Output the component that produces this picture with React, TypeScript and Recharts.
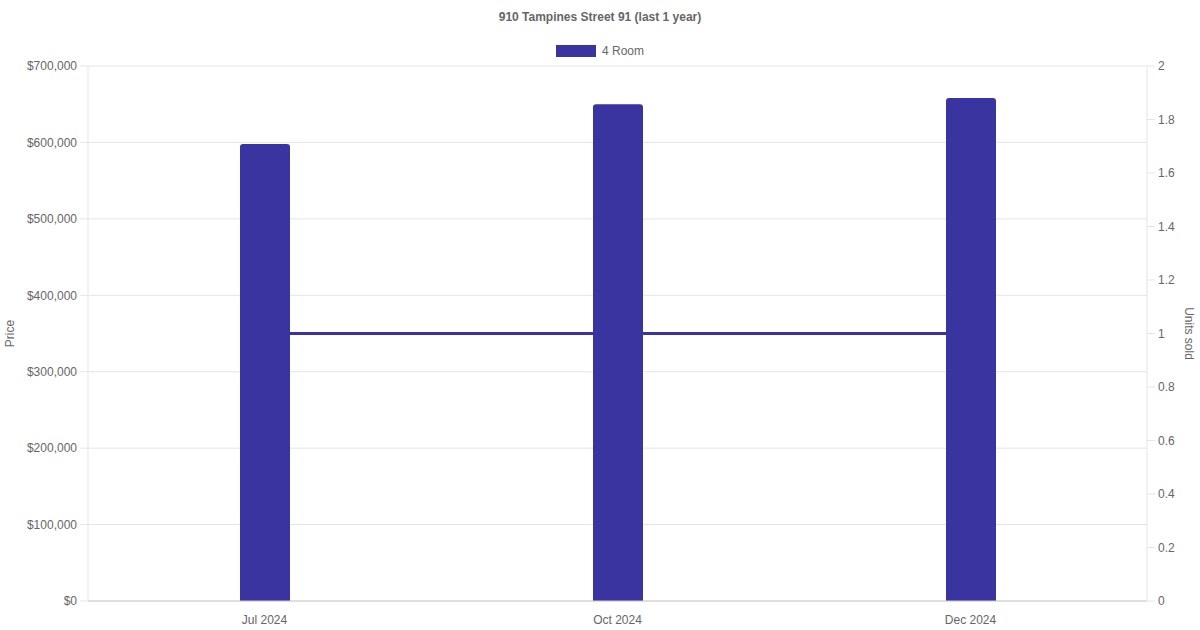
import React from 'react';
import { ComposedChart, Bar, Line, XAxis, YAxis, CartesianGrid } from 'recharts';

// values
const months = ['Jul 2024', 'Oct 2024', 'Dec 2024'];
const prices = [598000, 650000, 658000];
const unitsSold = [1, 1, 1];
const priceTicks = [0, 100000, 200000, 300000, 400000, 500000, 600000, 700000];
const unitTicks = [0, 0.2, 0.4, 0.6, 0.8, 1, 1.2, 1.4, 1.6, 1.8, 2];

const COLOR = '#3a34a0';
const GRID = '#e5e5e5';
const FONT = '"Liberation Sans", Arial, Helvetica, sans-serif';
const tickStyle = { fill: '#666', fontSize: 12, fontFamily: FONT };

const data = months.map((m, i) => ({ month: m, price: prices[i], units: unitsSold[i] }));

const fmtPrice = (v: number) => '$' + v.toLocaleString('en-US');
const fmtUnits = (v: number) => String(Number(v.toFixed(1)));

export default function App() {
  return (
    <div style={{ position: 'absolute', left: 0, top: 0, width: 1200, height: 630, background: '#fff', fontFamily: FONT }}>
      <div style={{ position: 'absolute', top: 10, left: 0, width: 1200, textAlign: 'center', fontSize: 12, fontWeight: 'bold', color: '#666' }}>
        910 Tampines Street 91 (last 1 year)
      </div>
      <div style={{ position: 'absolute', top: 44, left: 0, width: 1200, display: 'flex', justifyContent: 'center', alignItems: 'center', fontSize: 12, color: '#666' }}>
        <span style={{ display: 'inline-block', width: 40, height: 12, background: COLOR, marginRight: 6 }} />
        <span>4 Room</span>
      </div>
      <ComposedChart
        width={1200}
        height={630}
        data={data}
        margin={{ top: 66, right: 0, bottom: 0, left: 0 }}
        style={{ position: 'absolute', left: 0, top: 0 }}
      >
        <CartesianGrid stroke={GRID} vertical={false} yAxisId="price" />
        <XAxis
          dataKey="month"
          height={29}
          tick={{ ...tickStyle, dy: 4 }}
          tickLine={false}
          axisLine={{ stroke: '#ccc' }}
          tickSize={8}
        />
        <YAxis
          yAxisId="price"
          orientation="left"
          width={88}
          domain={[0, 700000]}
          ticks={priceTicks}
          tickFormatter={fmtPrice}
          tick={tickStyle}
          tickLine={{ stroke: GRID }}
          axisLine={{ stroke: GRID }}
          tickSize={8}
          tickMargin={3}
          label={{ value: 'Price', angle: -90, position: 'insideLeft', offset: 10, style: { fill: '#666', fontSize: 12, fontFamily: FONT, textAnchor: 'middle' } }}
        />
        <YAxis
          yAxisId="units"
          orientation="right"
          width={53}
          domain={[0, 2]}
          ticks={unitTicks}
          tickFormatter={fmtUnits}
          tick={tickStyle}
          tickLine={{ stroke: GRID }}
          axisLine={{ stroke: GRID }}
          tickSize={8}
          tickMargin={3}
          label={{ value: 'Units sold', angle: 90, position: 'insideRight', offset: 11, style: { fill: '#666', fontSize: 12, fontFamily: FONT, textAnchor: 'middle' } }}
        />
        <Line
          yAxisId="units"
          dataKey="units"
          stroke={COLOR}
          strokeWidth={3}
          dot={false}
          type="linear"
          isAnimationActive={false}
        />
        <Bar
          yAxisId="price"
          dataKey="price"
          fill={COLOR}
          barSize={50}
          radius={[3, 3, 0, 0]}
          isAnimationActive={false}
        />
      </ComposedChart>
    </div>
  );
}
